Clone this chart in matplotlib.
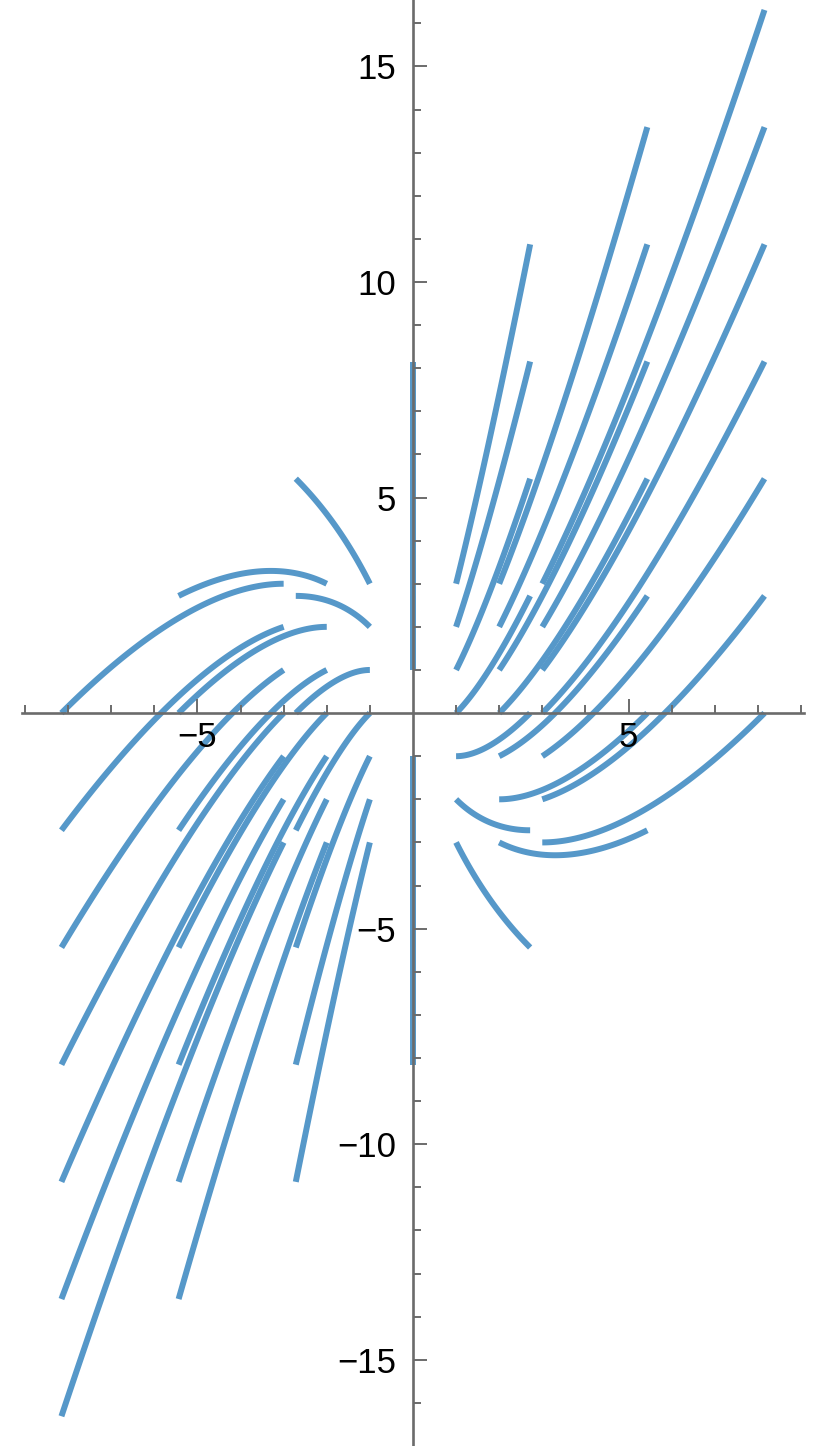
import numpy as np
import matplotlib
matplotlib.use("Agg")
import matplotlib.pyplot as plt
from matplotlib.ticker import MultipleLocator, FixedLocator

# seed points of the solution curves of y' = y/x + 1
seed_x = [-3, -2, -1, 0, 1, 2, 3]
seed_y = [-3, -2, -1, 0, 1, 2, 3]
t_end = 1.0  # each curve runs for one unit of log(x)

x_major = [-5, 5]
y_major = [-15, -10, -5, 5, 10, 15]

line_color = "#5698C9"
axis_color = "#6B6B6B"

plt.rcParams["font.family"] = ["Liberation Sans", "DejaVu Sans"]

fig = plt.figure(figsize=(8.38, 14.46), dpi=100)
ax = fig.add_axes([0, 0, 1, 1])

t = np.linspace(0, t_end, 120)
for x0 in seed_x:
    for y0 in seed_y:
        if x0 == 0 and y0 == 0:
            continue
        xs = x0 * np.exp(t)
        ys = np.exp(t) * (y0 + x0 * t)
        ax.plot(xs, ys, color=line_color, lw=4.3, solid_capstyle="butt", zorder=2)

ax.set_xlim(-9.58, 9.86)
ax.set_ylim(-17.0, 16.54)

for s in ["top", "right"]:
    ax.spines[s].set_visible(False)
ax.spines["left"].set_position(("data", 0))
ax.spines["bottom"].set_position(("data", 0))
ax.spines["bottom"].set_bounds(-9.08, 9.08)
for s in ["left", "bottom"]:
    ax.spines[s].set_color(axis_color)
    ax.spines[s].set_linewidth(1.9)
    ax.spines[s].set_zorder(3)

ax.xaxis.set_major_locator(FixedLocator(x_major))
ax.yaxis.set_major_locator(FixedLocator(y_major))
ax.xaxis.set_minor_locator(MultipleLocator(1))
ax.yaxis.set_minor_locator(MultipleLocator(1))
ax.xaxis.set_minor_locator(FixedLocator([v for v in range(-9, 10) if v not in x_major + [0]]))
ax.yaxis.set_minor_locator(FixedLocator([v for v in range(-16, 17) if v not in y_major + [0]]))

ax.tick_params(which="major", direction="in", length=10, width=1.4,
               color=axis_color, labelsize=25)
ax.tick_params(which="minor", direction="in", length=5.8, width=1.4,
               color=axis_color)
ax.tick_params(axis="x", which="major", pad=6)
ax.tick_params(axis="y", which="major", pad=12)
ax.set_xticklabels(["\u22125", "5"])
ax.set_yticklabels(["\u221215", "\u221210", "\u22125", "5", "10", "15"])
ax.set_axisbelow(False)

fig.savefig("out.png", dpi=100)
